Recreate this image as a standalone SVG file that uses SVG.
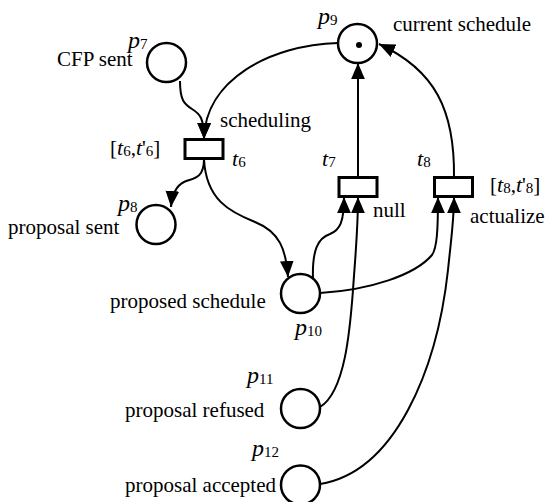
<svg xmlns="http://www.w3.org/2000/svg" width="550" height="502" viewBox="0 0 550 502">
<style>
.pl{fill:#fff;stroke:#000;stroke-width:2.5}
.tr{fill:#fff;stroke:#000;stroke-width:3}
.arc{fill:none;stroke:#000;stroke-width:2}
.arr{fill:none;stroke:#000;stroke-width:2;marker-end:url(#ah)}
text{font-family:"Liberation Serif","Times New Roman",serif;font-size:21px;fill:#000}
.i{font-style:italic;font-size:24px}
.it{font-style:italic;font-size:22px}
.s{font-size:15px;font-style:normal}
</style>
<defs>
<marker id="ah" markerUnits="userSpaceOnUse" markerWidth="16" markerHeight="14" viewBox="0 0 14 12" refX="14" refY="6" orient="auto">
<path d="M0,0 L14,6 L0,12 Z" fill="#000"/>
</marker>
</defs>
<g id="connectors">
<path class="arr" d="M180,81 C180,100 184,104 192,109 C200,114 204,118 204,139"/>
<path class="arr" d="M338,43 C270,45 205,80 204,139"/>
<path class="arr" d="M204,159 C204,180 192,178 184,182 C176,186 172,195 171,207"/>
<path class="arr" d="M204,159 C206,200 230,212 255,222 C280,232 286,250 288,277"/>
<path class="arr" d="M358,178 L358,63"/>
<path class="arr" d="M454,178 C455,110 435,70 379,44"/>
<path class="arr" d="M313,279 C312,250 318,238 330,234 C340,230 344,222 344,197"/>
<path class="arr" d="M320,407 C345,392 350,330 353,290 C355,260 358,230 358,197"/>
<path class="arr" d="M320,293 C370,290 415,275 432,255 C437,248 438,230 438,197"/>
<path class="arr" d="M320,484 C395,472 437,370 448,270 C451,240 454,220 454,197"/>
</g>
<g id="p7"><circle class="pl" cx="166.5" cy="62.5" r="19.5"/><text x="128" y="48" class="i">p<tspan class="s" dy="1">7</tspan></text><text x="57" y="66">CFP sent</text></g>
<g id="p8"><circle class="pl" cx="156" cy="224.5" r="19.5"/><text x="118" y="211" class="i">p<tspan class="s" dy="1">8</tspan></text><text x="8" y="234">proposal sent</text></g>
<g id="p9"><circle class="pl" cx="357.5" cy="43.5" r="19.5"/><circle cx="359" cy="45" r="3" fill="#000"/><text x="318" y="24" class="i">p<tspan class="s" dy="1">9</tspan></text><text x="393" y="31">current schedule</text></g>
<g id="p10"><circle class="pl" cx="300.5" cy="293.5" r="19.5"/><text x="295" y="335" class="i">p<tspan class="s" dy="1">10</tspan></text><text x="110" y="308">proposed schedule</text></g>
<g id="p11"><circle class="pl" cx="300.5" cy="408.5" r="19.5"/><text x="247" y="383" class="i">p<tspan class="s" dy="1">11</tspan></text><text x="125" y="417">proposal refused</text></g>
<g id="p12"><circle class="pl" cx="300.5" cy="485" r="19.5"/><text x="252" y="456" class="i">p<tspan class="s" dy="1">12</tspan></text><text x="125" y="492">proposal accepted</text></g>
<g id="t6"><rect class="tr" x="185" y="139.5" width="38" height="19"/><text x="232" y="166" class="it">t<tspan class="s" dy="1">6</tspan></text><text x="220" y="127">scheduling</text><text x="110" y="155">[<tspan class="it">t</tspan><tspan class="s" dy="1">6</tspan><tspan dy="-1">,</tspan><tspan class="it">t</tspan>'<tspan class="s" dy="1">6</tspan><tspan dy="-1">]</tspan></text></g>
<g id="t7"><rect class="tr" x="339" y="177.5" width="38" height="19"/><text x="322" y="166" class="it">t<tspan class="s" dy="1">7</tspan></text><text x="373" y="217">null</text></g>
<g id="t8"><rect class="tr" x="434.5" y="177.5" width="38" height="19"/><text x="417" y="166" class="it">t<tspan class="s" dy="1">8</tspan></text><text x="470" y="223">actualize</text><text x="490" y="192">[<tspan class="it">t</tspan><tspan class="s" dy="1">8</tspan><tspan dy="-1">,</tspan><tspan class="it">t</tspan>'<tspan class="s" dy="1">8</tspan><tspan dy="-1">]</tspan></text></g>
</svg>
